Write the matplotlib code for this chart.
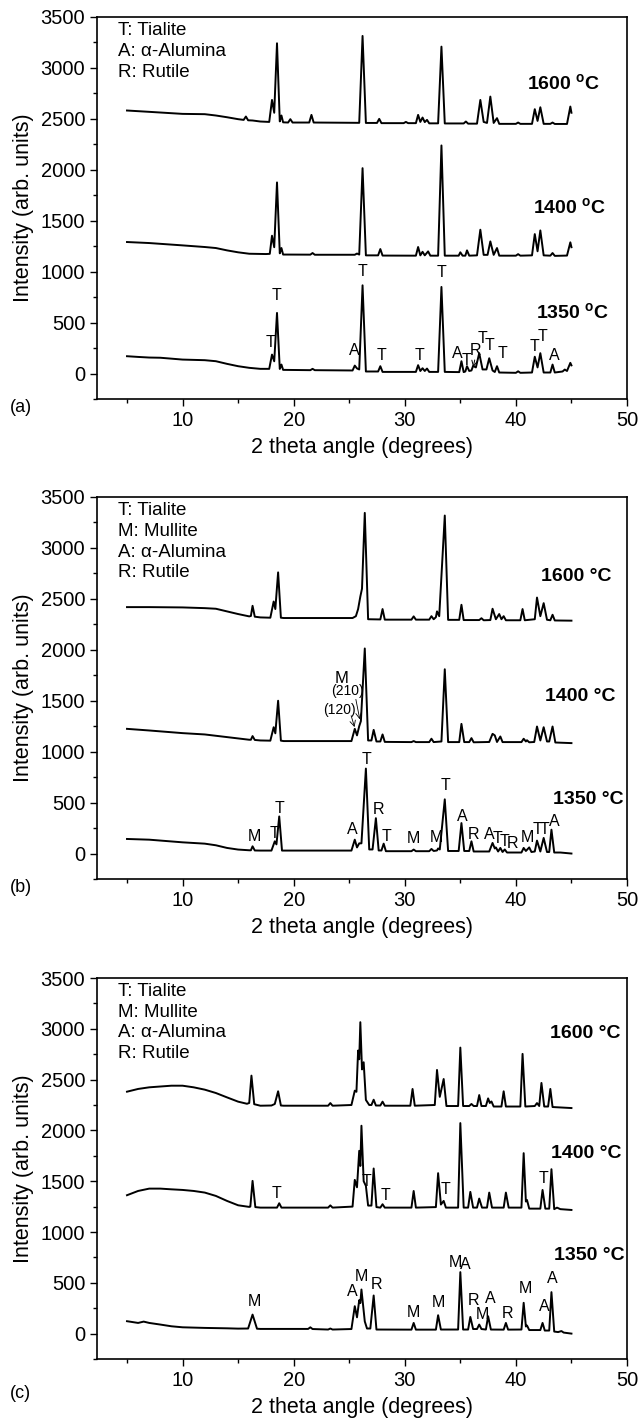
import matplotlib
matplotlib.use("Agg")
import matplotlib.pyplot as plt
from matplotlib.ticker import MultipleLocator

plt.rcParams['font.family'] = ['Liberation Sans', 'DejaVu Sans']
plt.rcParams['mathtext.fontset'] = 'custom'
plt.rcParams['mathtext.rm'] = 'Liberation Sans'
plt.rcParams['mathtext.bf'] = 'Liberation Sans:bold'

# traced XRD patterns: (2 theta, intensity) vertices
# panel (a)
a1600 = [(5, 2582), (7, 2569), (10, 2549), (12, 2546), (13, 2533), (14, 2516), (15, 2497), (15.5, 2490),
         (15.7, 2523), (15.9, 2486), (16.3, 2484), (17, 2474), (17.8, 2470), (18.05, 2686), (18.25, 2560),
         (18.5, 3242), (18.75, 2475), (18.9, 2533), (19.05, 2466), (19.5, 2464), (19.7, 2497), (19.9, 2464),
         (21.4, 2464), (21.6, 2539), (21.8, 2464), (25.9, 2461), (26.2, 3314), (26.5, 2460), (27.5, 2460),
         (27.7, 2500), (27.9, 2458), (29.9, 2458), (30.1, 2470), (30.3, 2458), (31.0, 2458), (31.2, 2539),
         (31.4, 2470), (31.6, 2513), (31.8, 2468), (32.0, 2490), (32.2, 2456), (33.0, 2456), (33.3, 3209),
         (33.6, 2455), (35.3, 2455), (35.5, 2474), (35.7, 2453), (36.5, 2453), (36.8, 2686), (37.1, 2470),
         (37.4, 2460), (37.7, 2719), (38.0, 2460), (38.3, 2507), (38.5, 2451), (40.0, 2451), (40.2, 2464),
         (40.4, 2451), (41.45, 2451), (41.7, 2595), (41.95, 2480), (42.2, 2614), (42.5, 2451), (43.1, 2451),
         (43.3, 2464), (43.5, 2450), (44.6, 2450), (44.9, 2621), (45.0, 2560)]
a1400 = [(5, 1291), (7, 1281), (10, 1258), (12, 1242), (13, 1232), (14, 1209), (15, 1190), (16, 1176),
         (17.5, 1173), (17.85, 1175), (18.05, 1353), (18.25, 1240), (18.5, 1876), (18.75, 1180), (18.9, 1232),
         (19.05, 1168), (21.5, 1167), (21.7, 1183), (21.9, 1166), (25.5, 1166), (25.7, 1178), (25.9, 1168),
         (26.2, 2016), (26.5, 1160), (27.6, 1160), (27.8, 1222), (28.0, 1158), (31.0, 1157), (31.2, 1242),
         (31.4, 1160), (31.6, 1195), (31.8, 1160), (32.1, 1199), (32.3, 1157), (33.0, 1157), (33.3, 2239),
         (33.6, 1157), (34.85, 1157), (35.0, 1190), (35.2, 1157), (35.45, 1157), (35.6, 1209), (35.8, 1157),
         (36.5, 1160), (36.8, 1412), (37.1, 1165), (37.45, 1165), (37.7, 1297), (38.0, 1165), (38.3, 1232),
         (38.5, 1157), (40.0, 1157), (40.2, 1172), (40.4, 1157), (41.45, 1160), (41.7, 1369), (41.95, 1200),
         (42.2, 1405), (42.5, 1160), (43.1, 1157), (43.3, 1183), (43.5, 1155), (44.6, 1158), (44.9, 1288),
         (45.0, 1240)]
a1350 = [(5, 170), (6, 163), (7, 157), (8, 155), (10, 137), (12, 131), (13, 121), (14, 95), (15, 72), (16, 56),
         (17, 46), (17.8, 46), (18.05, 186), (18.25, 120), (18.5, 595), (18.75, 45), (18.9, 88), (19.05, 36),
         (21.5, 33), (21.7, 46), (21.9, 33), (25.3, 30), (25.5, 78), (25.7, 50), (25.9, 40), (26.2, 866),
         (26.5, 20), (27.6, 20), (27.8, 72), (28.0, 16), (31.0, 16), (31.2, 82), (31.4, 25), (31.6, 52),
         (31.8, 25), (32.0, 49), (32.2, 16), (33.0, 16), (33.3, 850), (33.6, 16), (34.9, 14), (35.1, 121),
         (35.3, 14), (35.45, 20), (35.6, 72), (35.8, 25), (36.0, 30), (36.15, 75), (36.4, 60), (36.7, 200),
         (37.0, 40), (37.35, 40), (37.6, 150), (37.9, 30), (38.1, 15), (38.3, 72), (38.5, 10), (40.0, 7),
         (40.2, 22), (40.4, 7), (41.45, 10), (41.7, 165), (41.95, 60), (42.2, 200), (42.5, 10), (43.1, 10),
         (43.3, 88), (43.5, 10), (44.2, 20), (44.4, 39), (44.6, 25), (44.9, 105), (45.0, 80)]

# panel (b)
b1600 = [(5, 2419), (7, 2419), (10, 2416), (12, 2409), (13, 2403), (14, 2377), (15, 2351), (16, 2328),
         (16.15, 2332), (16.3, 2432), (16.5, 2325), (17, 2318), (17.9, 2315), (18.2, 2474), (18.35, 2400),
         (18.6, 2760), (18.85, 2315), (19.1, 2312), (25.3, 2312), (25.6, 2330), (25.8, 2400), (26.0, 2523),
         (26.15, 2600), (26.4, 3344), (26.7, 2300), (27.8, 2298), (28.0, 2400), (28.2, 2296), (30.6, 2296),
         (30.8, 2328), (31.0, 2296), (32.2, 2296), (32.4, 2330), (32.6, 2300), (32.8, 2320), (32.9, 2377),
         (33.1, 2330), (33.6, 3318), (33.9, 2294), (34.9, 2294), (35.1, 2442), (35.3, 2292), (36.7, 2292),
         (36.9, 2310), (37.1, 2290), (37.7, 2292), (37.9, 2403), (38.2, 2300), (38.5, 2351), (38.7, 2300),
         (38.9, 2330), (39.1, 2290), (40.4, 2290), (40.6, 2400), (40.8, 2290), (41.7, 2300), (41.9, 2513),
         (42.2, 2330), (42.5, 2458), (42.8, 2295), (43.1, 2290), (43.3, 2344), (43.5, 2288), (45, 2286)]
b1400 = [(5, 1224), (7, 1208), (10, 1182), (12, 1169), (14, 1143), (16, 1117), (16.15, 1117), (16.3, 1153),
         (16.5, 1115), (17, 1110), (17.9, 1108), (18.2, 1240), (18.35, 1180), (18.6, 1500), (18.85, 1108),
         (19.1, 1104), (25.2, 1104), (25.5, 1224), (25.7, 1160), (25.9, 1250), (26.05, 1300), (26.4, 2013),
         (26.7, 1110), (27.0, 1110), (27.2, 1214), (27.45, 1100), (27.8, 1100), (28.0, 1169), (28.2, 1096),
         (30.6, 1094), (30.8, 1104), (31.0, 1094), (32.2, 1094), (32.4, 1127), (32.6, 1094), (33.3, 1100),
         (33.6, 1809), (33.9, 1094), (34.9, 1094), (35.1, 1273), (35.35, 1094), (35.8, 1094), (36.0, 1133),
         (36.2, 1092), (37.6, 1095), (37.9, 1175), (38.1, 1160), (38.3, 1095), (38.6, 1149), (38.8, 1094),
         (40.5, 1094), (40.7, 1127), (40.9, 1100), (41.0, 1112), (41.2, 1092), (41.65, 1095), (41.9, 1247),
         (42.2, 1110), (42.5, 1240), (42.8, 1100), (43.0, 1100), (43.3, 1247), (43.55, 1090), (45, 1084)]
b1350 = [(5, 143), (7, 136), (10, 110), (12, 97), (13, 81), (14, 55), (15, 39), (16, 32), (16.15, 32),
         (16.3, 71), (16.5, 30), (17, 29), (18.0, 29), (18.3, 120), (18.45, 90), (18.7, 364), (18.95, 29),
         (19.2, 29), (25.2, 29), (25.5, 136), (25.7, 60), (25.9, 100), (26.1, 100), (26.5, 834), (26.8, 40),
         (27.1, 40), (27.4, 347), (27.65, 30), (27.9, 30), (28.1, 97), (28.3, 23), (30.6, 23), (30.8, 39),
         (31.0, 23), (32.2, 23), (32.4, 45), (32.6, 25), (32.9, 30), (33.0, 50), (33.15, 40), (33.6, 532),
         (33.9, 25), (34.85, 25), (35.1, 299), (35.35, 25), (35.8, 25), (36.0, 120), (36.2, 20), (37.6, 20),
         (37.9, 104), (38.1, 50), (38.2, 60), (38.4, 20), (38.6, 55), (38.8, 15), (39.0, 40), (39.2, 10),
         (40.5, 10), (40.7, 55), (40.9, 25), (41.2, 60), (41.4, 15), (41.7, 20), (41.9, 127), (42.2, 20),
         (42.5, 153), (42.8, 15), (43.0, 15), (43.2, 234), (43.45, 10), (44.0, 10), (45, 0)]

# panel (c)
c1600 = [(5, 2381), (6, 2408), (7, 2424), (8, 2432), (9, 2440), (10, 2440), (11, 2424), (12, 2401),
         (13, 2368), (14, 2325), (15, 2283), (15.8, 2262), (16.0, 2270), (16.2, 2539), (16.45, 2258),
         (17, 2243), (18.0, 2245), (18.3, 2260), (18.6, 2385), (18.85, 2245), (19.1, 2243), (23.1, 2243),
         (23.3, 2269), (23.5, 2243), (25.2, 2250), (25.5, 2391), (25.65, 2380), (25.8, 2786), (25.9, 2700),
         (26.0, 3065), (26.15, 2600), (26.3, 2671), (26.5, 2300), (26.8, 2250), (27.0, 2250), (27.2, 2302),
         (27.4, 2245), (27.8, 2245), (28.0, 2283), (28.2, 2243), (30.5, 2243), (30.7, 2408), (30.9, 2243),
         (32.7, 2250), (32.9, 2595), (33.15, 2330), (33.5, 2506), (33.75, 2240), (34.8, 2240), (35.0, 2815),
         (35.25, 2240), (35.8, 2240), (36.0, 2260), (36.2, 2240), (36.5, 2240), (36.7, 2348), (36.9, 2240),
         (37.3, 2240), (37.5, 2315), (37.65, 2270), (37.8, 2285), (38.0, 2235), (38.7, 2235), (38.9, 2385),
         (39.1, 2235), (40.4, 2235), (40.6, 2753), (40.85, 2235), (41.7, 2240), (41.9, 2269), (42.1, 2240),
         (42.3, 2467), (42.55, 2235), (42.9, 2235), (43.1, 2408), (43.3, 2230), (45, 2220)]
c1400 = [(5, 1362), (6, 1404), (7, 1427), (8, 1427), (9, 1420), (10, 1414), (11, 1404), (12, 1388),
         (13, 1355), (14, 1306), (15, 1263), (16, 1247), (16.1, 1250), (16.3, 1503), (16.55, 1245), (17, 1240),
         (18.5, 1240), (18.7, 1283), (18.9, 1240), (23.1, 1240), (23.3, 1262), (23.5, 1240), (25.3, 1250),
         (25.5, 1513), (25.7, 1440), (25.9, 1799), (26.0, 1650), (26.1, 2046), (26.3, 1500), (26.5, 1454),
         (26.7, 1260), (27.0, 1260), (27.2, 1625), (27.45, 1245), (27.8, 1240), (28.0, 1273), (28.2, 1240),
         (30.6, 1240), (30.8, 1404), (31.0, 1240), (32.8, 1245), (33.0, 1579), (33.25, 1270), (33.5, 1306),
         (33.7, 1240), (34.8, 1240), (35.0, 2072), (35.3, 1240), (35.7, 1240), (35.9, 1395), (36.15, 1240),
         (36.5, 1240), (36.7, 1329), (36.95, 1240), (37.4, 1240), (37.6, 1388), (37.85, 1240), (38.9, 1240),
         (39.1, 1388), (39.35, 1240), (40.5, 1240), (40.7, 1776), (40.9, 1300), (41.0, 1315), (41.2, 1230),
         (42.2, 1230), (42.4, 1414), (42.65, 1230), (43.0, 1230), (43.2, 1618), (43.45, 1225), (43.7, 1240),
         (44.0, 1225), (45, 1217)]
c1350 = [(5, 122), (6, 105), (6.5, 118), (7, 105), (8, 89), (9, 72), (10, 62), (12, 56), (14, 52), (15, 49),
         (15.9, 50), (16.3, 187), (16.7, 48), (17, 46), (20, 46), (21.3, 46), (21.5, 62), (21.7, 45),
         (23.1, 40), (23.3, 50), (23.5, 40), (25.2, 45), (25.5, 270), (25.7, 160), (25.9, 329), (26.0, 300),
         (26.1, 434), (26.4, 120), (26.6, 50), (26.9, 50), (27.2, 375), (27.45, 40), (30.6, 39), (30.8, 105),
         (31.0, 39), (32.8, 39), (33.0, 181), (33.25, 40), (34.8, 40), (35.0, 605), (35.25, 40), (35.7, 40),
         (35.9, 164), (36.15, 45), (36.5, 45), (36.7, 89), (36.9, 45), (37.3, 40), (37.5, 171), (37.75, 40),
         (38.9, 39), (39.1, 105), (39.3, 39), (40.5, 40), (40.7, 303), (40.9, 70), (41.0, 80), (41.2, 35),
         (42.2, 35), (42.4, 105), (42.6, 30), (43.0, 30), (43.2, 408), (43.45, 20), (43.8, 15), (44.1, 25),
         (44.3, 10), (45, 0)]

# phase labels on the patterns: (2 theta, intensity, letter)
a_marks = [(17.9, 300, 'T'), (18.5, 765, 'T'), (25.5, 229, 'A'), (26.2, 1003, 'T'), (27.9, 176, 'T'),
           (31.3, 176, 'T'), (33.3, 993, 'T'), (34.75, 196, 'A'), (35.55, 125, 'T'), (36.4, 229, 'R'),
           (37.0, 340, 'T'), (37.65, 280, 'T'), (38.75, 200, 'T'), (41.65, 268, 'T'), (42.35, 366, 'T'),
           (43.5, 176, 'A')]
b_marks = [(16.5, 169, 'M'), (18.25, 201, 'T'), (18.75, 445, 'T'), (25.3, 234, 'A'), (26.55, 922, 'T'),
           (27.6, 429, 'R'), (28.4, 169, 'T'), (30.8, 143, 'M'), (32.85, 153, 'M'), (33.7, 672, 'T'),
           (35.2, 364, 'A'), (36.2, 185, 'R'), (37.6, 185, 'A'), (38.35, 150, 'T'), (39.0, 120, 'T'),
           (39.65, 100, 'R'), (41.0, 153, 'M'), (41.95, 234, 'T'), (42.6, 234, 'T'), (43.5, 315, 'A')]
c_marks = [(18.5, 1381, 'T'), (26.6, 1493, 'T'), (28.3, 1355, 'T'), (33.65, 1414, 'T'), (42.5, 1526, 'T'),
           (16.5, 319, 'M'), (25.3, 411, 'A'), (26.1, 566, 'M'), (27.45, 484, 'R'), (30.8, 210, 'M'),
           (33.05, 303, 'M'), (34.55, 704, 'M'), (35.45, 681, 'A'), (36.2, 329, 'R'), (37.0, 187, 'M'),
           (37.66, 342, 'A'), (39.2, 197, 'R'), (40.9, 441, 'M'), (42.6, 263, 'A'), (43.25, 539, 'A')]

a_legend = ['T: Tialite', 'A: α-Alumina', 'R: Rutile']
bc_legend = ['T: Tialite', 'M: Mullite', 'A: α-Alumina', 'R: Rutile']

temps = ['1600', '1400', '1350']
a_temp_pos = [(41.0, 2850), (41.5, 1624), (41.8, 595)]
b_temp_pos = [(42.3, 2718), (42.6, 1542), (43.3, 532)]
c_temp_pos = [(43.1, 2950), (43.2, 1773), (43.4, 770)]

fig = plt.figure(figsize=(6.43, 14.21), dpi=100)

# axes boxes in pixels: (left, top, right, bottom), plus y of the panel tag
boxes = [(97, 17, 627, 399, 408), (97, 497, 627, 879, 888), (97, 978, 627, 1359, 1393)]
panels = [
    ([a1600, a1400, a1350], a_marks, a_legend, a_temp_pos, '(a)', True),
    ([b1600, b1400, b1350], b_marks, bc_legend, b_temp_pos, '(b)', False),
    ([c1600, c1400, c1350], c_marks, bc_legend, c_temp_pos, '(c)', False),
]

W, H = 643.0, 1421.0
for (l, t, r, b, tag_y), (curves, marks, legend, tpos, tag, big_o) in zip(boxes, panels):
    ax = fig.add_axes([l / W, 1 - b / H, (r - l) / W, (b - t) / H])
    for cur in curves:
        xs = [p[0] for p in cur]
        ys = [p[1] for p in cur]
        ax.plot(xs, ys, color='black', lw=1.4)
    for x, y, s in marks:
        ax.text(x, y, s, ha='center', va='center', fontsize=11.5)
    for i, s in enumerate(legend):
        ax.text(4.2, 3370 - i * 205, s, ha='left', va='center', fontsize=13.5)
    for s, (x, y) in zip(temps, tpos):
        if big_o:
            lab = s + r' $^{\mathbf{o}}$C'
        else:
            lab = s + ' °C'
        ax.text(x, y, lab, ha='left', va='center', fontsize=14, fontweight='bold')

    ax.set_xlim(2.3, 50)
    ax.set_ylim(-250, 3500)
    ax.xaxis.set_major_locator(MultipleLocator(10))
    ax.xaxis.set_minor_locator(MultipleLocator(5))
    ax.yaxis.set_major_locator(MultipleLocator(500))
    ax.yaxis.set_minor_locator(MultipleLocator(250))
    ax.tick_params(which='both', direction='out', labelsize=14.5, width=1)
    ax.tick_params(which='major', length=5)
    ax.tick_params(which='minor', length=3)
    for sp in ax.spines.values():
        sp.set_linewidth(1.2)
    ax.set_xlabel('2 theta angle (degrees)', fontsize=15.5)
    ax.set_ylabel('Intensity (arb. units)', fontsize=15.5)
    ax.yaxis.set_label_coords(-0.118, 0.5)
    ax.xaxis.set_label_coords(0.5, -0.1)
    fig.text(10 / W, 1 - tag_y / H, tag, ha='left', va='center', fontsize=13)

    if tag == '(a)':
        ax.annotate('', xy=(36.1, 35), xytext=(36.35, 160),
                    arrowprops=dict(arrowstyle='->', lw=0.7, color='black'))
    if tag == '(b)':
        ax.text(24.3, 1721, 'M', ha='center', va='center', fontsize=12)
        ax.text(24.8, 1597, '(210)', ha='center', va='center', fontsize=10)
        ax.text(24.1, 1409, '(120)', ha='center', va='center', fontsize=10)
        ax.annotate('', xy=(26.0, 1290), xytext=(25.55, 1540),
                    arrowprops=dict(arrowstyle='->', lw=0.6, color='black'))
        ax.annotate('', xy=(25.55, 1215), xytext=(25.1, 1380),
                    arrowprops=dict(arrowstyle='->', lw=0.6, color='black'))

fig.savefig('out.png', dpi=100)
